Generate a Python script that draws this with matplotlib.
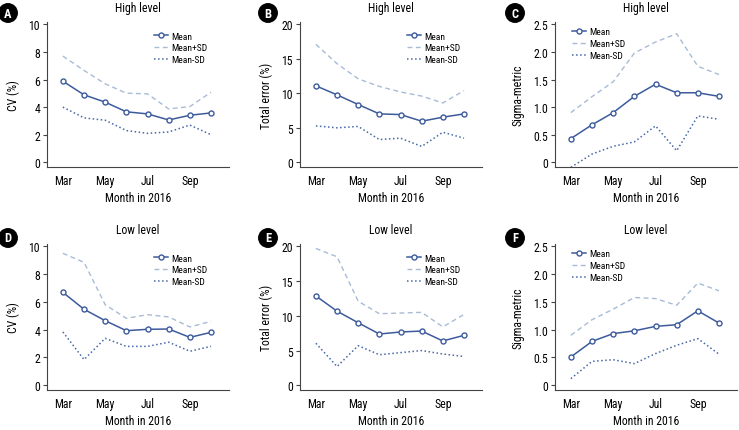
import numpy as np
import matplotlib.pyplot as plt

plt.rcParams['font.family'] = ['Roboto Condensed', 'Liberation Sans Narrow', 'Liberation Sans']

months = ['Mar', 'Apr', 'May', 'Jun', 'Jul', 'Aug', 'Sep', 'Oct']
tick_labels = ['Mar', 'May', 'Jul', 'Sep']

# panel A: CV high level
cv_hi_mean = [5.88, 4.89, 4.36, 3.66, 3.51, 3.07, 3.41, 3.58]
cv_hi_plus = [7.70, 6.66, 5.69, 5.01, 4.96, 3.87, 4.04, 5.08]
cv_hi_minus = [4.00, 3.22, 3.05, 2.30, 2.10, 2.20, 2.70, 2.00]
# panel B: total error high level
te_hi_mean = [11.09, 9.78, 8.38, 7.02, 6.92, 5.96, 6.54, 7.02]
te_hi_plus = [17.1, 14.3, 12.1, 11.0, 10.2, 9.6, 8.6, 10.4]
te_hi_minus = [5.28, 5.00, 5.20, 3.30, 3.50, 2.30, 4.36, 3.50]
# panel C: sigma high level
sm_hi_mean = [0.43, 0.68, 0.90, 1.195, 1.415, 1.26, 1.26, 1.195]
sm_hi_plus = [0.90, 1.19, 1.46, 1.98, 2.18, 2.33, 1.74, 1.59]
sm_hi_minus = [-0.09, 0.15, 0.29, 0.37, 0.66, 0.21, 0.84, 0.78]
# panel D: CV low level
cv_lo_mean = [6.69, 5.47, 4.65, 3.93, 4.03, 4.05, 3.45, 3.81]
cv_lo_plus = [9.50, 8.85, 5.80, 4.82, 5.08, 4.92, 4.20, 4.60]
cv_lo_minus = [3.84, 1.85, 3.38, 2.80, 2.80, 3.10, 2.45, 2.80]
# panel E: total error low level
te_lo_mean = [12.86, 10.67, 9.00, 7.38, 7.67, 7.81, 6.38, 7.19]
te_lo_plus = [19.7, 18.5, 12.1, 10.3, 10.4, 10.5, 8.4, 10.2]
te_lo_minus = [6.05, 2.70, 5.70, 4.40, 4.70, 5.00, 4.50, 4.15]
# panel F: sigma low level
sm_lo_mean = [0.51, 0.79, 0.93, 0.98, 1.06, 1.09, 1.34, 1.12]
sm_lo_plus = [0.90, 1.18, 1.37, 1.58, 1.56, 1.44, 1.84, 1.70]
sm_lo_minus = [0.12, 0.43, 0.46, 0.39, 0.57, 0.72, 0.84, 0.56]

panels = [
    ('A', 'High level', 'CV (%)', cv_hi_mean, cv_hi_plus, cv_hi_minus, (0, 10, 2), 'right'),
    ('B', 'High level', 'Total error (%)', te_hi_mean, te_hi_plus, te_hi_minus, (0, 20, 5), 'right'),
    ('C', 'High level', 'Sigma-metric', sm_hi_mean, sm_hi_plus, sm_hi_minus, (0, 2.5, 0.5), 'left'),
    ('D', 'Low level', 'CV (%)', cv_lo_mean, cv_lo_plus, cv_lo_minus, (0, 10, 2), 'right'),
    ('E', 'Low level', 'Total error (%)', te_lo_mean, te_lo_plus, te_lo_minus, (0, 20, 5), 'right'),
    ('F', 'Low level', 'Sigma-metric', sm_lo_mean, sm_lo_plus, sm_lo_minus, (0, 2.5, 0.5), 'left'),
]

W, H = 739, 431
fig = plt.figure(figsize=(W / 100, H / 100), dpi=100)

lefts = [47, 300, 555]
width = 182
rows = [(23, 168), (245, 391)]

blue = '#3d5b9c'
light = '#a8bbd6'
dot = '#4868a8'

x = np.arange(len(months))
for i, (letter, title, ylab, mean, plus, minus, yt, legpos) in enumerate(panels):
    r, c = divmod(i, 3)
    top, bot = rows[r]
    ax = fig.add_axes([lefts[c] / W, 1 - bot / H, width / W, (bot - top) / H])
    ax.plot(x, mean, '-o', color=blue, lw=1.1, ms=3.6, mfc='white', mec=blue, mew=1.0, label='Mean')
    ax.plot(x, plus, '--', color=light, lw=1.0, dashes=(3.5, 2.5), label='Mean+SD')
    ax.plot(x, minus, ':', color=dot, lw=1.1, label='Mean-SD')
    lo, hi, st = yt
    ax.set_ylim(lo - hi * 0.034, hi * 1.017)
    ax.set_yticks(np.arange(lo, hi + st / 2, st))
    if st < 1:
        ax.set_yticklabels(['0'] + ['%.1f' % v for v in np.arange(st, hi + st / 2, st)])
    ax.set_xlim(-0.75, 7.85)
    ax.set_xticks([0, 2, 4, 6])
    ax.set_xticklabels(tick_labels)
    for s in ['top', 'right']:
        ax.spines[s].set_visible(False)
    for s in ['left', 'bottom']:
        ax.spines[s].set_color('#444444')
        ax.spines[s].set_linewidth(0.8)
    ax.tick_params(axis='y', length=3, width=0.8, labelsize=8.5, pad=2, color='#444444')
    ax.tick_params(axis='x', length=0, labelsize=8.5, pad=5)
    ax.set_ylabel(ylab, fontsize=8.5, labelpad=6)
    ax.set_xlabel('Month in 2016', fontsize=8.5, labelpad=3)
    ax.set_title(title, fontsize=8.5, pad=8)
    if legpos == 'right':
        anchor = (0.565, 0.96)
    else:
        anchor = (0.07, 0.99)
    ax.legend(loc='upper left', bbox_to_anchor=anchor, frameon=False, fontsize=6.8,
              handlelength=1.5, labelspacing=0.3, handletextpad=0.4, borderaxespad=0)

    # panel letter badge
    cx = [8, 268, 515][c]
    cy = [14, 239][r]
    fig.text(cx / W, 1 - cy / H, letter, color='white', fontsize=9, fontweight='bold',
             ha='center', va='center',
             bbox=dict(boxstyle='circle,pad=0.22', fc='black', ec='black'))

fig.savefig('out.png', dpi=100)
